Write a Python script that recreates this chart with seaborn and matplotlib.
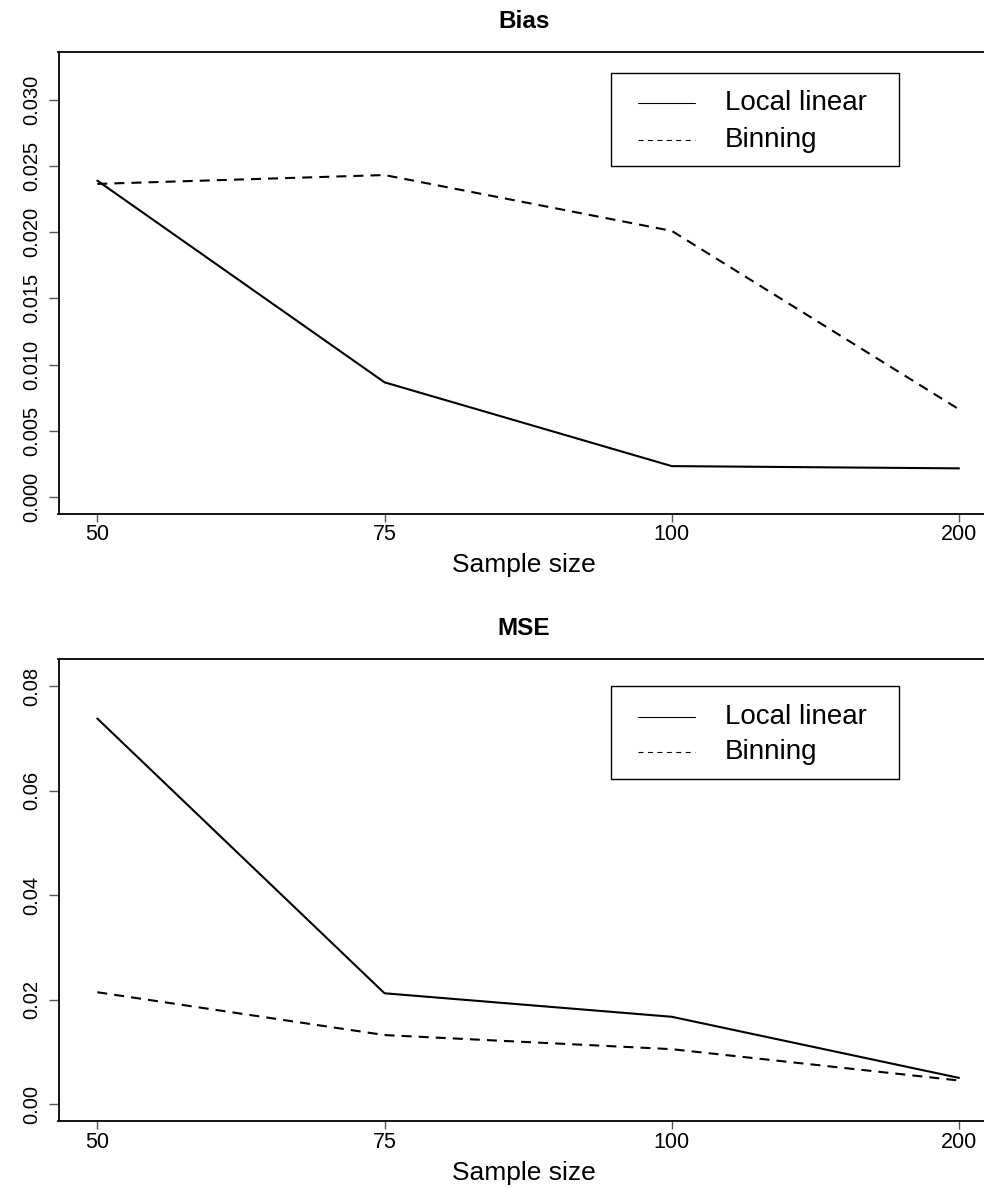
import numpy as np
import pandas as pd
import matplotlib
matplotlib.use("Agg")
import matplotlib.pyplot as plt
import seaborn as sns
from matplotlib.patches import Rectangle
from matplotlib.lines import Line2D

# ---------------- data ----------------
sample_sizes = ["50", "75", "100", "200"]
methods = ["Local linear", "Binning"]

bias_local = [0.0239, 0.00866, 0.00233, 0.00216]
bias_binning = [0.02365, 0.02432, 0.0201, 0.00662]

mse_local = [0.0738, 0.0212, 0.0167, 0.0050]
mse_binning = [0.0214, 0.0132, 0.0105, 0.0045]

bias_yticks = [0.000, 0.005, 0.010, 0.015, 0.020, 0.025, 0.030]
bias_yticklabels = ["0.000", "0.005", "0.010", "0.015", "0.020", "0.025", "0.030"]
mse_yticks = [0.00, 0.02, 0.04, 0.06, 0.08]
mse_yticklabels = ["0.00", "0.02", "0.04", "0.06", "0.08"]

panel_titles = ["Bias", "MSE"]
x_label = "Sample size"

# ---------------- style ----------------
sns.set_style("white")
plt.rcParams["font.family"] = ["Liberation Sans", "DejaVu Sans"]
plt.rcParams["axes.edgecolor"] = "black"
plt.rcParams["axes.linewidth"] = 1.3
plt.rcParams["text.color"] = "black"
plt.rcParams["xtick.labelcolor"] = "black"
plt.rcParams["ytick.labelcolor"] = "black"


def long_frame(local_vals, bin_vals):
    rows = []
    for m, vals in zip(methods, [local_vals, bin_vals]):
        for i, (s, v) in enumerate(zip(sample_sizes, vals)):
            rows.append({"pos": i, "size": s, "method": m, "value": v})
    return pd.DataFrame(rows)


fig = plt.figure(figsize=(9.84, 11.88), dpi=100)

W_px, H_px = 984.0, 1188.0
ax_left_px, ax_right_px = 58.5, 989.0
x0_px, x3_px = 97.3, 959.0
ppu = (x3_px - x0_px) / 3.0
xlim = ((ax_left_px - x0_px) / ppu, (ax_right_px - x0_px) / ppu)

panels = [
    dict(top=52.2, bottom=513.5, local=bias_local, binning=bias_binning,
         yticks=bias_yticks, ylabels=bias_yticklabels, ylim=(-0.00125, 0.0336),
         title=panel_titles[0], leg=(611, 899, 73.3, 166.0, 103.3, 140.0)),
    dict(top=659.0, bottom=1121.4, local=mse_local, binning=mse_binning,
         yticks=mse_yticks, ylabels=mse_yticklabels, ylim=(-0.00333, 0.0852),
         title=panel_titles[1], leg=(611, 899, 686.0, 779.0, 717.0, 752.0)),
]

dash_pattern = (4.8, 3.4)

for p in panels:
    ax = fig.add_axes([ax_left_px / W_px, 1 - p["bottom"] / H_px,
                       (ax_right_px - ax_left_px) / W_px,
                       (p["bottom"] - p["top"]) / H_px])
    df = long_frame(p["local"], p["binning"])
    sns.lineplot(data=df, x="pos", y="value", style="method", style_order=methods,
                 dashes={"Local linear": "", "Binning": dash_pattern},
                 color="black", linewidth=1.5, legend=False, sort=False,
                 errorbar=None, ax=ax)
    ax.set_xlim(*xlim)
    ax.set_ylim(*p["ylim"])
    ax.set_xticks(range(len(sample_sizes)))
    ax.set_xticklabels(sample_sizes, fontsize=15.5)
    ax.set_yticks(p["yticks"])
    ax.set_yticklabels(p["ylabels"], fontsize=14.5, rotation=90, va="center")
    ax.tick_params(axis="x", length=6, width=1, color="#555555", pad=1.5, bottom=True)
    ax.tick_params(axis="y", length=7.5, width=1, color="#555555", pad=5, left=True)
    ax.set_xlabel("")
    ax.set_ylabel("")
    ax.grid(False)
    for s in ax.spines.values():
        s.set_visible(True)
        s.set_color("black")
        s.set_linewidth(1.3)

    Hp = p["bottom"] - p["top"]
    Wp = ax_right_px - ax_left_px
    # x label and title
    ax.text(0.5, -51.5 / Hp, x_label, transform=ax.transAxes, ha="center",
            va="center", fontsize=19)
    ax.text(0.5, 1 + 30.5 / Hp, p["title"], transform=ax.transAxes, ha="center",
            va="center", fontsize=17.5, fontweight="bold")

    # legend box
    lx0, lx1, ly0, ly1, r1, r2 = p["leg"]
    fx = lambda px: (px - ax_left_px) / Wp
    fy = lambda py: (p["bottom"] - py) / Hp
    ax.add_patch(Rectangle((fx(lx0), fy(ly1)), fx(lx1) - fx(lx0), fy(ly0) - fy(ly1),
                           transform=ax.transAxes, facecolor="white",
                           edgecolor="black", linewidth=1.0, zorder=5))
    for label, ry, ls in [(methods[0], r1, "-"), (methods[1], r2, (0, (4.5, 4.0)))]:
        ax.add_line(Line2D([fx(638), fx(695)], [fy(ry), fy(ry)], transform=ax.transAxes,
                           color="black", linewidth=0.8, linestyle=ls, zorder=6))
        ax.text(fx(725), fy(ry), label, transform=ax.transAxes, ha="left",
                va="center", fontsize=20, zorder=6)

fig.savefig("out.png", dpi=100)
